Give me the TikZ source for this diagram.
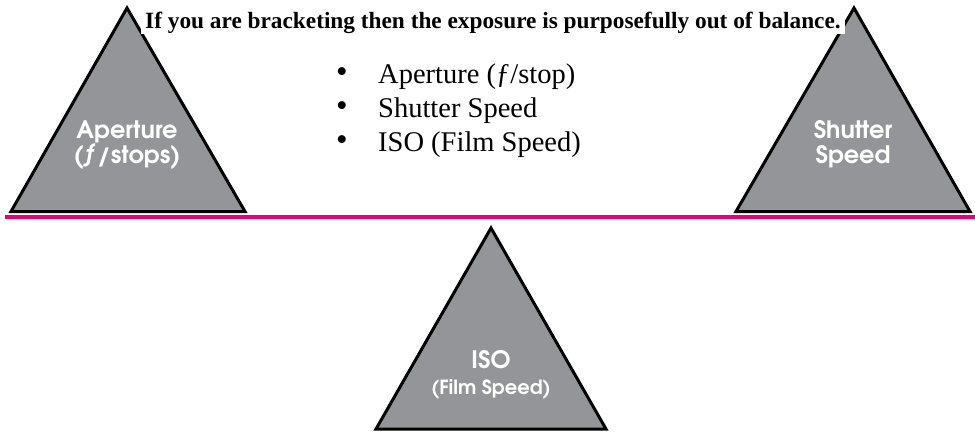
\documentclass[tikz,border=0pt]{standalone}
\usepackage{fontspec}
\setmainfont{Liberation Serif}
\newfontfamily\gothic{TeX Gyre Adventor}
\definecolor{trigray}{HTML}{939598}
\definecolor{beampink}{HTML}{E6007E}
\begin{document}
\begin{tikzpicture}[x=1pt,y=-1pt,
  tribox/.style={fill=trigray,draw=black,line width=3pt,line join=miter},
  lab/.style={text=white,font=\gothic\bfseries\fontsize{24}{25}\selectfont,anchor=base,inner sep=0pt},
  smalllab/.style={text=white,font=\gothic\bfseries\fontsize{19.5}{21}\selectfont,anchor=base,inner sep=0pt},
  bul/.style={font=\fontsize{28.5}{30}\selectfont,anchor=base west,inner sep=0pt},
  dotmark/.style={font=\fontsize{33}{34}\selectfont,anchor=base west,inner sep=0pt},
  beam/.style={draw=beampink,line width=4pt}]
\useasboundingbox (0,0) rectangle (975,432);
% triangles
\coordinate (la) at (127,8);
\coordinate (ll) at (11,211.5);
\coordinate (lr) at (245,211.5);
\draw[tribox] (la) -- (lr) -- (ll) -- cycle;
\coordinate (ra) at (854,8);
\coordinate (rl) at (736,211.5);
\coordinate (rr) at (970,211.5);
\draw[tribox] (ra) -- (rr) -- (rl) -- cycle;
\coordinate (ba) at (491,228);
\coordinate (bl) at (376,429);
\coordinate (br) at (606,429);
\draw[tribox] (ba) -- (br) -- (bl) -- cycle;
% beam
\coordinate (b1) at (5,217);
\coordinate (b2) at (975,217);
\draw[beam] (b1) -- (b2);
% labels
\node[lab] (ap1) at (127,138) {Aperture};
\node[lab] (ap2) at (127,163) {(ƒ/stops)};
\node[lab] (sh1) at (853,138) {Shutter};
\node[lab] (sh2) at (853,163) {Speed};
\node[lab] (iso1) at (491,368) {ISO};
\node[smalllab] (iso2) at (491,394) {(Film Speed)};
% heading
\node[fill=white,inner xsep=4pt,inner ysep=1pt,anchor=base,font=\bfseries\fontsize{23.3}{24}\selectfont] (head) at (493,28) {If you are bracketing then the exposure is purposefully out of balance.};
% bullet list
\node[dotmark] (d1) at (336,82) {•};
\node[bul] (t1) at (378,83) {Aperture (ƒ/stop)};
\node[dotmark] (d2) at (336,116) {•};
\node[bul] (t2) at (378,117) {Shutter Speed};
\node[dotmark] (d3) at (336,150) {•};
\node[bul] (t3) at (378,151) {ISO (Film Speed)};
\end{tikzpicture}
\end{document}
